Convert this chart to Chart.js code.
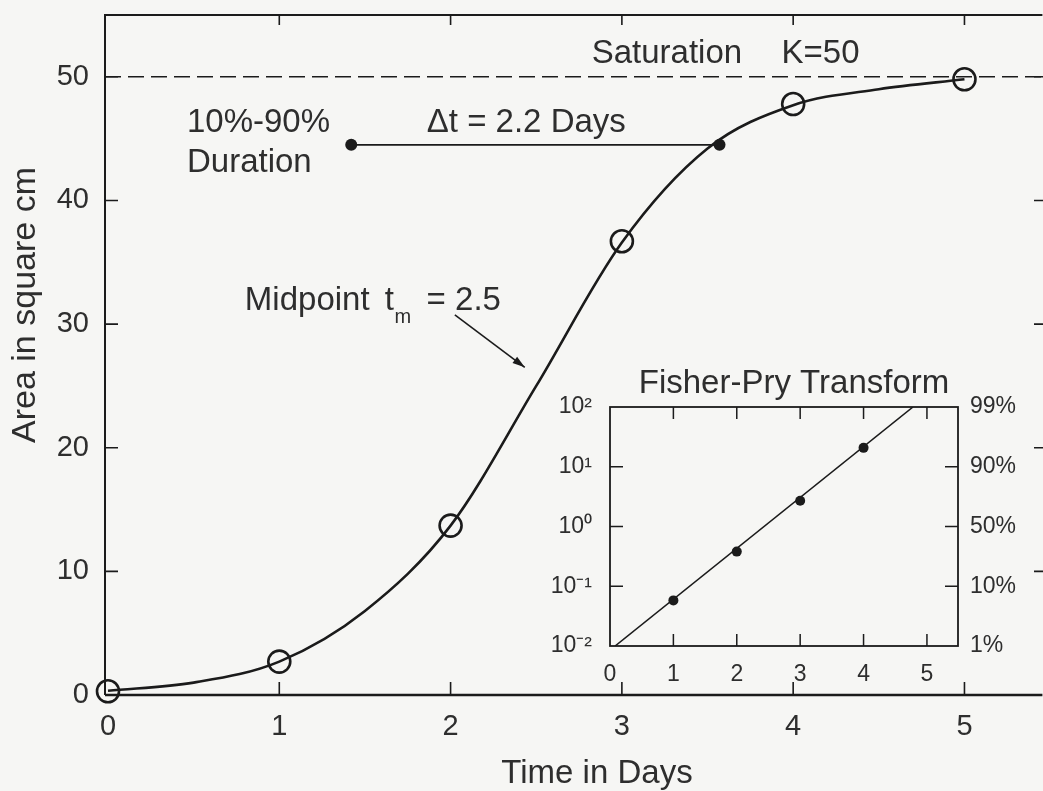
<!DOCTYPE html>
<html><head><meta charset="utf-8">
<script src="https://cdn.jsdelivr.net/npm/chart.js@4"></script>
<style>
html,body{margin:0;padding:0;background:#f6f6f4;}
#wrap{position:relative;width:1043px;height:791px;overflow:hidden;}
#main{position:absolute;left:0;top:0;}
#inset{position:absolute;left:540px;top:360px;}
</style></head><body>
<div id="wrap"><canvas id="main" width="1056" height="791"></canvas><canvas id="inset" width="503" height="330"></canvas></div>
<script>
// ---- data ----
const dayTicks = [0, 1, 2, 3, 4, 5];
const areaTicks = [0, 10, 20, 30, 40, 50];
const observedDays = [0, 1, 2, 3, 4, 5];
const observedArea = [0.3, 2.7, 13.7, 36.7, 47.8, 49.8];
const curveDays = [0, 0.5, 1, 1.5, 2, 2.5, 3, 3.5, 4, 4.5, 5];
const curveArea = [0.35, 1.0, 2.7, 6.8, 13.7, 25.0, 36.6, 44.2, 47.7, 49.0, 49.8];
const saturationK = 50;
const durationDays = [1.42, 3.57];
const durationLevel = [44.5, 44.5];
const fpDays = [1, 2, 3, 4];
const fpRatio = [0.058, 0.38, 2.7, 20.7];
const fpFitDays = [0.08, 4.78];
const fpFitRatio = [0.01, 100];
const fpTicks = [0.01, 0.1, 1, 10, 100];
const fpLeftLabels = ['10\u207B\u00B2', '10\u207B\u00B9', '10\u2070', '10\u00B9', '10\u00B2'];
const fpRightLabels = ['1%', '10%', '50%', '90%', '99%'];
const fpDayTicks = [0, 1, 2, 3, 4, 5];

// ---- style ----
const FONT = '"Liberation Sans", Arial, sans-serif';
const INK = '#1b1b1b';
const TXT = '#2e2e2e';
const X_MIN = -0.0175, X_MAX = 5.455, Y_MIN = 0, Y_MAX = 55;
const pts = (xs, ys) => xs.map((x, i) => ({x: x, y: ys[i]}));
const noPad = s => { s.paddingTop = 0; s.paddingBottom = 0; s.paddingLeft = 0; s.paddingRight = 0; };

const mainDeco = {
  id: 'mainDeco',
  afterDraw(chart) {
    const {ctx, chartArea: a, scales: {x, y}} = chart;
    ctx.save();
    ctx.strokeStyle = INK;
    ctx.lineWidth = 2;
    ctx.beginPath();
    ctx.moveTo(a.left, a.bottom); ctx.lineTo(a.left, a.top); ctx.lineTo(a.right, a.top);
    ctx.stroke();
    ctx.lineWidth = 2.4;
    ctx.beginPath(); ctx.moveTo(a.left, a.bottom); ctx.lineTo(a.right, a.bottom); ctx.stroke();
    ctx.lineWidth = 1.6;
    ctx.beginPath();
    const rightEdge = 1043;
    areaTicks.forEach(v => {
      if (v === 0) return;
      const py = y.getPixelForValue(v);
      ctx.moveTo(a.left, py); ctx.lineTo(a.left + 13, py);
      ctx.moveTo(rightEdge - 9, py); ctx.lineTo(rightEdge, py);
    });
    dayTicks.forEach(v => {
      if (v === 0) return;
      const px = x.getPixelForValue(v);
      ctx.moveTo(px, a.bottom); ctx.lineTo(px, a.bottom - 13);
      ctx.moveTo(px, a.top); ctx.lineTo(px, a.top + 10);
    });
    ctx.stroke();

    // annotations
    ctx.fillStyle = TXT;
    ctx.textBaseline = 'alphabetic';
    ctx.textAlign = 'left';
    const T = (s, dx, dy, size) => {
      ctx.font = size + 'px ' + FONT;
      ctx.fillText(s, x.getPixelForValue(dx), y.getPixelForValue(dy));
    };
    T('Saturation', 2.824, 51.13, 33);
    T('K=50', 3.932, 51.13, 33);
    T('10%-90%', 0.461, 45.55, 33);
    T('Duration', 0.461, 42.31, 33);
    T('\u0394t = 2.2 Days', 1.861, 45.55, 33);
    T('Midpoint', 0.799, 31.15, 33);
    T('t', 1.616, 31.15, 33);
    T('m', 1.672, 30.1, 20);
    T('= 2.5', 1.86, 31.15, 33);

    // arrow
    const x0 = x.getPixelForValue(2.025), y0 = y.getPixelForValue(30.74);
    const x1 = x.getPixelForValue(2.433), y1 = y.getPixelForValue(26.5);
    ctx.lineWidth = 1.6;
    ctx.beginPath(); ctx.moveTo(x0, y0); ctx.lineTo(x1, y1); ctx.stroke();
    const ang = Math.atan2(y1 - y0, x1 - x0);
    ctx.beginPath();
    ctx.moveTo(x1, y1);
    ctx.lineTo(x1 - 13 * Math.cos(ang - 0.3), y1 - 13 * Math.sin(ang - 0.3));
    ctx.lineTo(x1 - 13 * Math.cos(ang + 0.3), y1 - 13 * Math.sin(ang + 0.3));
    ctx.closePath(); ctx.fillStyle = INK; ctx.fill();

    // axis titles
    ctx.fillStyle = TXT;
    ctx.font = '33px ' + FONT;
    ctx.textAlign = 'center'; ctx.textBaseline = 'middle';
    ctx.fillText('Time in Days', 597, 774);
    ctx.font = '34px ' + FONT;
    ctx.translate(26, 305); ctx.rotate(-Math.PI / 2);
    ctx.fillText('Area in square cm', 0, 0);
    ctx.restore();
  }
};

new Chart(document.getElementById('main'), {
  type: 'scatter',
  data: { datasets: [
    { data: pts(observedDays, observedArea), pointRadius: 11, pointBorderWidth: 2.6,
      pointBorderColor: INK, pointBackgroundColor: 'rgba(0,0,0,0)', showLine: false, order: 0, clip: false },
    { type: 'line', data: pts(durationDays, durationLevel), borderColor: INK, borderWidth: 1.8,
      pointRadius: 6, pointBackgroundColor: INK, pointBorderWidth: 0, order: 1 },
    { type: 'line', data: pts(curveDays, curveArea), borderColor: INK, borderWidth: 2.6,
      pointRadius: 0, cubicInterpolationMode: 'monotone', fill: false, order: 2 },
    { type: 'line', data: [{x: X_MIN, y: saturationK}, {x: X_MAX, y: saturationK}], borderColor: INK,
      borderWidth: 1.6, borderDash: [16, 7], pointRadius: 0, order: 3 }
  ]},
  options: {
    responsive: false, animation: false, devicePixelRatio: 1,
    layout: { padding: { top: 15, right: 0, left: 0, bottom: 0 } },
    plugins: { legend: { display: false }, tooltip: { enabled: false } },
    scales: {
      x: { type: 'linear', min: X_MIN, max: X_MAX,
        afterBuildTicks: s => { s.ticks = dayTicks.map(v => ({value: v})); },
        afterFit: s => { s.height = 96; noPad(s); },
        grid: { display: false, drawTicks: false }, border: { display: false },
        ticks: { padding: 15, color: TXT, font: { family: FONT, size: 29 }, maxRotation: 0, autoSkip: false,
          callback: v => String(v) } },
      y: { type: 'linear', min: Y_MIN, max: Y_MAX,
        afterBuildTicks: s => { s.ticks = areaTicks.map(v => ({value: v})); },
        afterFit: s => { s.width = 105; noPad(s); },
        grid: { display: false, drawTicks: false }, border: { display: false },
        ticks: { padding: 16, color: TXT, font: { family: FONT, size: 29 }, autoSkip: false,
          callback: v => String(v) } }
    }
  },
  plugins: [mainDeco]
});

const insetDeco = {
  id: 'insetDeco',
  afterDraw(chart) {
    const {ctx, chartArea: a, scales: {x, y}} = chart;
    ctx.save();
    ctx.strokeStyle = INK;
    ctx.lineWidth = 1.8;
    ctx.strokeRect(a.left, a.top, a.right - a.left, a.bottom - a.top);
    ctx.lineWidth = 1.5;
    ctx.beginPath();
    fpTicks.forEach(v => {
      if (v === fpTicks[0] || v === fpTicks[fpTicks.length - 1]) return;
      const py = y.getPixelForValue(v);
      ctx.moveTo(a.left, py); ctx.lineTo(a.left + 13, py);
      ctx.moveTo(a.right, py); ctx.lineTo(a.right - 13, py);
    });
    fpDayTicks.forEach(v => {
      if (v === 0) return;
      const px = x.getPixelForValue(v);
      ctx.moveTo(px, a.bottom); ctx.lineTo(px, a.bottom - 12);
      ctx.moveTo(px, a.top); ctx.lineTo(px, a.top + 12);
    });
    ctx.stroke();
    ctx.fillStyle = TXT;
    ctx.font = '33px ' + FONT;
    ctx.textAlign = 'center'; ctx.textBaseline = 'alphabetic';
    ctx.fillText('Fisher-Pry Transform', 254, 33);
    ctx.restore();
  }
};

const logTicks = s => { s.ticks = fpTicks.map(v => ({value: v})); };
new Chart(document.getElementById('inset'), {
  type: 'scatter',
  data: { datasets: [
    { data: pts(fpDays, fpRatio), pointRadius: 5, pointBackgroundColor: INK, pointBorderWidth: 0, showLine: false, order: 0 },
    { type: 'line', data: pts(fpFitDays, fpFitRatio), borderColor: INK, borderWidth: 1.6, pointRadius: 0, order: 1 }
  ]},
  options: {
    responsive: false, animation: false, devicePixelRatio: 1,
    layout: { padding: { top: 47, right: 0, left: 0, bottom: 0 } },
    plugins: { legend: { display: false }, tooltip: { enabled: false } },
    scales: {
      x: { type: 'linear', min: 0, max: 5.49,
        afterBuildTicks: s => { s.ticks = fpDayTicks.map(v => ({value: v})); },
        afterFit: s => { s.height = 44; noPad(s); },
        grid: { display: false, drawTicks: false }, border: { display: false },
        ticks: { padding: 15, color: TXT, font: { family: FONT, size: 23 }, maxRotation: 0, autoSkip: false,
          callback: v => String(v) } },
      y: { type: 'logarithmic', position: 'left', min: 0.01, max: 100,
        afterBuildTicks: logTicks, afterFit: s => { s.width = 70; noPad(s); },
        grid: { display: false, drawTicks: false }, border: { display: false },
        ticks: { padding: 18, color: TXT, font: { family: FONT, size: 23 }, autoSkip: false,
          callback: (v, i) => fpLeftLabels[i] } },
      y2: { type: 'logarithmic', position: 'right', min: 0.01, max: 100,
        afterBuildTicks: logTicks, afterFit: s => { s.width = 85; noPad(s); },
        grid: { display: false, drawTicks: false }, border: { display: false },
        ticks: { padding: 12, color: TXT, font: { family: FONT, size: 23 }, autoSkip: false,
          callback: (v, i) => fpRightLabels[i] } }
    }
  },
  plugins: [insetDeco]
});
</script>
</body></html>
